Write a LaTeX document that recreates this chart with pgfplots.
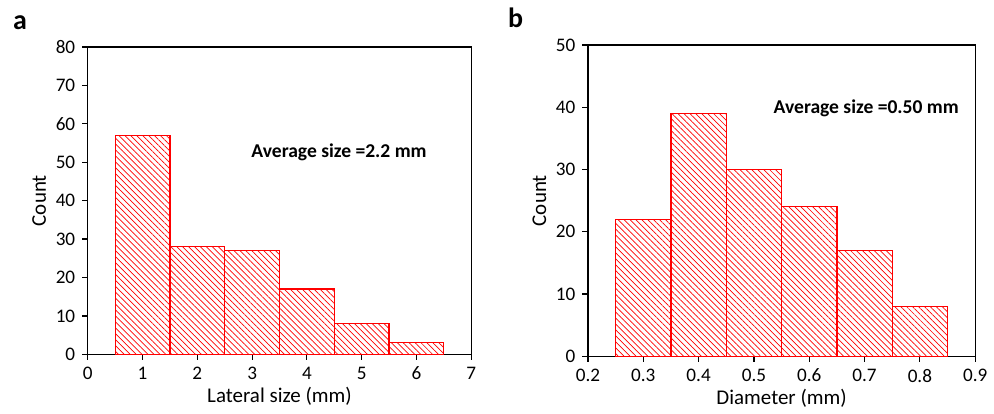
\documentclass[border=0pt]{standalone}
\usepackage{fontspec}
\setmainfont{Carlito}
\usepackage{pgfplots}
\pgfplotsset{compat=1.18}
\usetikzlibrary{patterns.meta}
\begin{document}
\begin{tikzpicture}
\pgfplotsset{
  hist/.style={
    scale only axis,
    axis line style={black, line width=0.6pt},
    tick style={black, line width=0.6pt},
    tick align=outside,
    major tick length=2.8pt,
    xtick pos=bottom, ytick pos=left,
    ticklabel style={font=\fontsize{9.6}{11}\selectfont},
    label style={font=\fontsize{10.5}{12}\selectfont},
    /pgf/number format/assume math mode=true,
    ylabel={Count},
    ymin=0,
  },
  histbar/.style={
    ybar, bar shift=0pt,
    draw=red, line width=0.6pt,
    pattern={Lines[angle=-45, distance=2.1pt, line width=0.35pt]},
    pattern color=red,
  },
}
\path (0pt,0pt) rectangle (497pt,206pt);
\node[anchor=base west, font=\bfseries\fontsize{14}{16}\selectfont] at (3pt,191pt) {a};
\node[anchor=base west, font=\bfseries\fontsize{14}{16}\selectfont] at (251pt,192pt) {b};
\begin{axis}[hist,
  at={(44pt,28.5pt)}, anchor=south west,
  width=192pt, height=154pt,
  xmin=0, xmax=7, xtick={0,...,7},
  ymax=80, ytick={0,10,...,80},
  xlabel={Lateral size (mm)},
  xlabel style={yshift=3.5pt},
  ylabel style={yshift=-2pt},
]
\addplot[histbar, bar width=1] coordinates {
  (1,57) (2,28) (3,27) (4,17) (5,8) (6,3)
};
\node[anchor=west, font=\bfseries\fontsize{9.8}{11}\selectfont] at (axis cs:2.86,52.5) {Average size =2.2 mm};
\end{axis}
\begin{axis}[hist,
  at={(294.5pt,27.5pt)}, anchor=south west,
  width=194pt, height=156pt,
  xmin=0.2, xmax=0.9, xtick={0.2,0.3,...,0.9},
  xticklabel style={/pgf/number format/.cd, fixed, fixed zerofill, precision=1},
  ymax=50, ytick={0,10,...,50},
  xlabel={Diameter (mm)},
  xlabel style={yshift=3.5pt},
  ylabel style={yshift=-2pt},
]
\addplot[histbar, bar width=0.1] coordinates {
  (0.3,22) (0.4,39) (0.5,30) (0.6,24) (0.7,17) (0.8,8)
};
\node[anchor=west, font=\bfseries\fontsize{9.8}{11}\selectfont] at (axis cs:0.523,39.9) {Average size =0.50 mm};
\end{axis}
\end{tikzpicture}
\end{document}
